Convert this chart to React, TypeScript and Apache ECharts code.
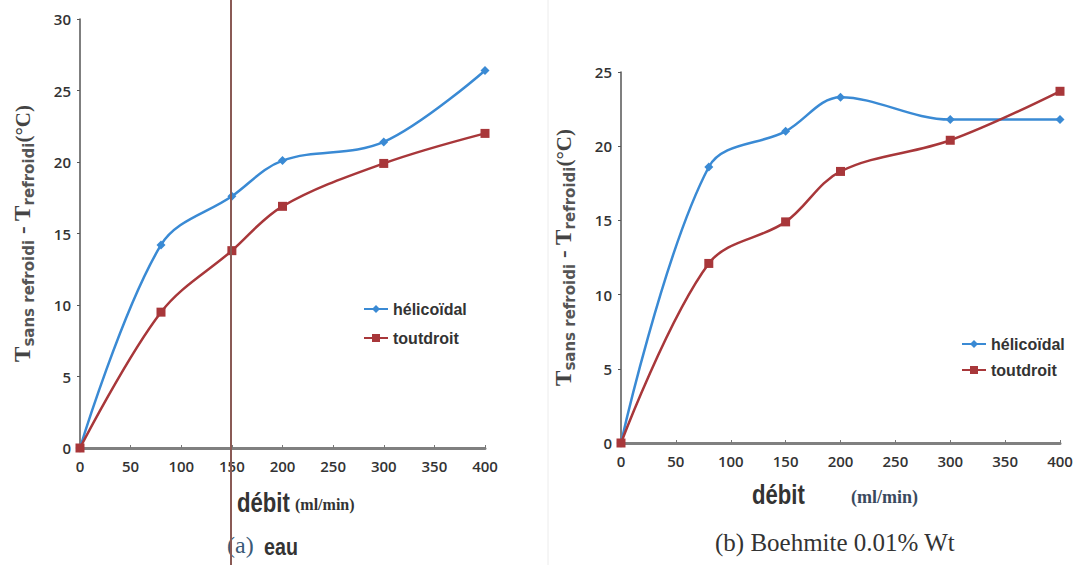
import React, { useEffect, useRef } from "react";
import * as echarts from "echarts";

const flowRates = [0, 80, 150, 200, 300, 400];
const eauHelicoidal = [0, 14.2, 17.6, 20.1, 21.4, 26.4];
const eauToutdroit = [0, 9.5, 13.8, 16.9, 19.9, 22.0];
const boehHelicoidal = [0, 18.6, 21.0, 23.3, 21.8, 21.8];
const boehToutdroit = [0, 12.1, 14.9, 18.3, 20.4, 23.7];
const seriesNames = ["hélicoïdal", "toutdroit"];
const xTitle = "débit";
const xUnit = "(ml/min)";
const captionA = ["(a)", "eau"];
const captionB = "(b) Boehmite 0.01% Wt";

const BLUE = "#3a8ad4";
const RED = "#a8373a";
const BOLDSANS = "'Liberation Sans', Arial, sans-serif";
const TICK_FONT = "'Open Sans', 'Noto Sans', sans-serif";
const SERIF = "'Liberation Serif', 'DejaVu Serif', serif";

const pairs = (ys: number[]) => flowRates.map((x, i) => [x, ys[i]]);

const yName = "{t|T}{s|sans refroidi}{t| - T}{s|refroidi}{u|(°C)}";
const yRich = {
  t: { fontSize: 23, fontFamily: SERIF, color: "#444", fontWeight: "bold" },
  s: { fontSize: 15, fontFamily: "'DejaVu Sans', sans-serif", color: "#555", fontWeight: "bold", padding: [12, 0, 0, 0] },
  u: { fontSize: 21, fontFamily: SERIF, color: "#444", fontWeight: "bold" },
};

function xAxis(gridIndex: number) {
  return {
    type: "value",
    gridIndex,
    min: 0,
    max: 400,
    interval: 50,
    axisLine: { show: true, lineStyle: { color: "#808080", width: 3 } },
    axisTick: { show: true, inside: true, length: 3, lineStyle: { color: "#777" } },
    axisLabel: { color: "#333", fontSize: 15, fontWeight: 600, fontFamily: TICK_FONT, margin: 10 },
    splitLine: { show: false },
  };
}

function yAxis(gridIndex: number, max: number, nameGap: number) {
  return {
    type: "value",
    gridIndex,
    min: 0,
    max,
    interval: 5,
    name: yName,
    nameLocation: "middle",
    nameRotate: 90,
    nameGap,
    nameTextStyle: { rich: yRich },
    axisLine: { show: true, lineStyle: { color: "#555", width: 1.5 } },
    axisTick: { show: true, length: 3, lineStyle: { color: "#555" } },
    axisLabel: { color: "#333", fontSize: 15, fontWeight: 600, fontFamily: TICK_FONT, margin: 9 },
    splitLine: { show: false },
  };
}

function line(name: string, data: number[], idx: number, color: string, symbol: string, size: number) {
  return {
    type: "line",
    name,
    xAxisIndex: idx,
    yAxisIndex: idx,
    data: pairs(data),
    smooth: 0.35,
    symbol,
    symbolSize: size,
    lineStyle: { color, width: 2.5 },
    itemStyle: { color },
  };
}

const legendText = { fontFamily: BOLDSANS, fontWeight: "bold", fontSize: 16, color: "#333" };

export default function App() {
  const ref = useRef<HTMLDivElement>(null);
  useEffect(() => {
    if (!ref.current) return;
    const chart = echarts.init(ref.current, null, { renderer: "svg" });
    chart.setOption({
      animation: false,
      backgroundColor: "#ffffff",
      grid: [
        { left: 80, top: 19, width: 405, height: 429 },
        { left: 621, top: 72, width: 439, height: 371 },
      ],
      xAxis: [xAxis(0), xAxis(1)],
      yAxis: [yAxis(0, 30, 44), yAxis(1, 25, 44)],
      legend: [
        {
          orient: "vertical",
          left: 358,
          top: 296,
          itemGap: 13,
          itemWidth: 24,
          itemHeight: 10,
          data: seriesNames,
          textStyle: legendText,
        },
        {
          orient: "vertical",
          left: 956,
          top: 331,
          itemGap: 10,
          itemWidth: 24,
          itemHeight: 10,
          data: seriesNames,
          textStyle: legendText,
        },
      ],
      series: [
        line(seriesNames[0], eauHelicoidal, 0, BLUE, "diamond", 9),
        line(seriesNames[1], eauToutdroit, 0, RED, "rect", 9),
        line(seriesNames[0], boehHelicoidal, 1, BLUE, "diamond", 9),
        line(seriesNames[1], boehToutdroit, 1, RED, "rect", 9),
      ],
      graphic: [
        {
          type: "line",
          shape: { x1: 548, y1: 0, x2: 548, y2: 565 },
          style: { stroke: "#ececec", lineWidth: 1 },
        },
        {
          type: "line",
          shape: { x1: 231, y1: 0, x2: 231, y2: 565 },
          style: { stroke: "#8a5a55", lineWidth: 2 },
          z: 100,
        },
        {
          type: "text",
          x: 237,
          y: 489,
          scaleX: 0.82,
          style: { text: xTitle, font: `bold 27px ${BOLDSANS}`, fill: "#333" },
        },
        {
          type: "text",
          x: 295,
          y: 496,
          style: { text: xUnit, font: `bold 16px ${SERIF}`, fill: "#333" },
        },
        {
          type: "text",
          x: 227,
          y: 533,
          style: { text: captionA[0], font: `24px ${SERIF}`, fill: "#3a5a78" },
        },
        {
          type: "text",
          x: 264,
          y: 535,
          scaleX: 0.82,
          style: { text: captionA[1], font: `bold 24px ${BOLDSANS}`, fill: "#333" },
        },
        {
          type: "text",
          x: 752,
          y: 481,
          scaleX: 0.82,
          style: { text: xTitle, font: `bold 27px ${BOLDSANS}`, fill: "#333" },
        },
        {
          type: "text",
          x: 851,
          y: 488,
          style: { text: xUnit, font: `bold 18px ${SERIF}`, fill: "#3a4a5e" },
        },
        {
          type: "text",
          x: 715,
          y: 530,
          style: { text: captionB, font: `25px ${SERIF}`, fill: "#333" },
        },
      ],
    });
    return () => chart.dispose();
  }, []);
  return <div ref={ref} style={{ position: "fixed", left: 0, top: 0, width: 1076, height: 565 }} />;
}
